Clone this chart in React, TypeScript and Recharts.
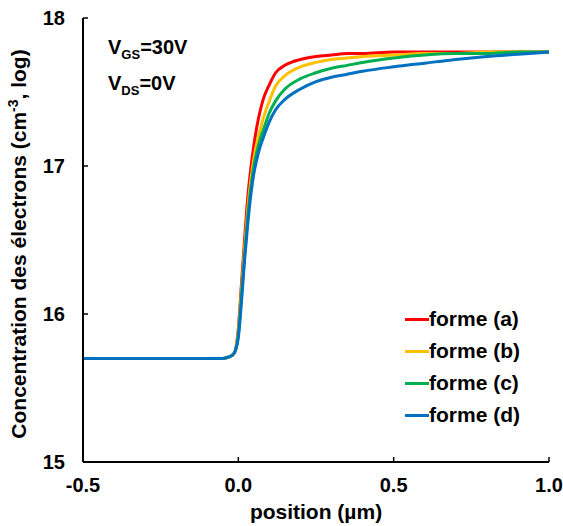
import React from "react";
import { LineChart, Line, XAxis, YAxis } from "recharts";

// position (µm) and log10 electron concentration for each shape
const positions = [
  -0.5, -0.2, -0.1, -0.05, -0.03, -0.02, -0.01, 0, 0.01, 0.02, 0.03, 0.04, 0.05,
  0.06, 0.07, 0.08, 0.1, 0.12, 0.15, 0.2, 0.25, 0.3, 0.35, 0.4, 0.5, 0.6, 0.7,
  0.8, 0.9, 1.0,
];
const formeA = [
  15.7, 15.7, 15.7, 15.7, 15.71, 15.72, 15.75, 15.9, 16.2, 16.5, 16.78, 16.98,
  17.14, 17.27, 17.37, 17.45, 17.55, 17.63, 17.68, 17.72, 17.74, 17.75, 17.76,
  17.76, 17.77, 17.77, 17.77, 17.77, 17.77, 17.77,
];
const formeB = [
  15.7, 15.7, 15.7, 15.7, 15.71, 15.72, 15.75, 15.88, 16.15, 16.44, 16.7, 16.9,
  17.05, 17.16, 17.24, 17.32, 17.44, 17.54, 17.61, 17.67, 17.7, 17.72, 17.73,
  17.74, 17.75, 17.76, 17.76, 17.77, 17.77, 17.77,
];
const formeC = [
  15.7, 15.7, 15.7, 15.7, 15.71, 15.72, 15.75, 15.86, 16.12, 16.4, 16.65, 16.85,
  17.0, 17.1, 17.18, 17.24, 17.36, 17.44, 17.52, 17.59, 17.63, 17.66, 17.68,
  17.7, 17.73, 17.75, 17.76, 17.76, 17.77, 17.77,
];
const formeD = [
  15.7, 15.7, 15.7, 15.7, 15.71, 15.72, 15.75, 15.84, 16.08, 16.36, 16.6, 16.8,
  16.95, 17.05, 17.13, 17.19, 17.3, 17.38, 17.45, 17.52, 17.57, 17.6, 17.62,
  17.64, 17.67, 17.695, 17.72, 17.74, 17.755, 17.77,
];
const xTicks = [-0.5, 0, 0.5, 1.0];
const yTicks = [15, 16, 17, 18];

const series = [
  { key: "a", name: "forme (a)", values: formeA, color: "#FF0000" },
  { key: "b", name: "forme (b)", values: formeB, color: "#FFC000" },
  { key: "c", name: "forme (c)", values: formeC, color: "#00B050" },
  { key: "d", name: "forme (d)", values: formeD, color: "#0070C0" },
];

const data = positions.map((x, i) => {
  const row: any = { x };
  series.forEach((s) => (row[s.key] = s.values[i]));
  return row;
});

const FONT = "'Liberation Sans', Arial, sans-serif";

const XTick = ({ x, y, payload }: any) => (
  <g>
    <line x1={x} y1={y} x2={x} y2={y - 5} stroke="#000" strokeWidth={1.5} />
    <text
      x={x}
      y={y + 30}
      textAnchor="middle"
      fontFamily={FONT}
      fontWeight="bold"
      fontSize={20}
      fill="#000"
    >
      {payload.value.toFixed(1)}
    </text>
  </g>
);

const YTick = ({ x, y, payload }: any) => (
  <g>
    <line x1={x} y1={y} x2={x + 5} y2={y} stroke="#000" strokeWidth={1.5} />
    <text
      x={x - 18}
      y={y + 7}
      textAnchor="end"
      fontFamily={FONT}
      fontWeight="bold"
      fontSize={20}
      fill="#000"
    >
      {payload.value}
    </text>
  </g>
);

const YLabel = () => (
  <text
    x={26}
    y={244}
    transform="rotate(-90 26 244)"
    textAnchor="middle"
    fontFamily={FONT}
    fontWeight="bold"
    fontSize={21}
    fill="#000"
  >
    Concentration des électrons (cm
    <tspan dy={-8} fontSize={14}>
      -3
    </tspan>
    <tspan dy={8}>, log)</tspan>
  </text>
);

export default function App() {
  return (
    <div style={{ position: "absolute", left: 0, top: 0, width: 563, height: 526 }}>
      <LineChart
        width={563}
        height={526}
        data={data}
        margin={{ top: 18, right: 14, left: 23, bottom: 34 }}
      >
        <XAxis
          dataKey="x"
          type="number"
          domain={[-0.5, 1]}
          ticks={xTicks}
          tickSize={0}
          tickMargin={0}
          tick={<XTick />}
          axisLine={{ stroke: "#000", strokeWidth: 2 }}
          height={30}
          label={{
            value: "position (µm)",
            position: "bottom",
            offset: 12,
            style: { fontFamily: FONT, fontWeight: "bold", fontSize: 21, fill: "#000" },
          }}
        />
        <XAxis
          xAxisId="top"
          orientation="top"
          dataKey="x"
          type="number"
          domain={[-0.5, 1]}
          ticks={xTicks}
          tick={false}
          tickLine={false}
          height={0}
          axisLine={{ stroke: "#000", strokeWidth: 2 }}
        />
        <YAxis
          type="number"
          domain={[15, 18]}
          ticks={yTicks}
          tickSize={0}
          tickMargin={0}
          tick={<YTick />}
          width={60}
          axisLine={{ stroke: "#000", strokeWidth: 2 }}
          label={() => <YLabel />}
        />
        <YAxis
          yAxisId="right"
          orientation="right"
          type="number"
          domain={[15, 18]}
          tick={false}
          tickLine={false}
          width={0}
          axisLine={{ stroke: "#000", strokeWidth: 2 }}
        />
        {series.map((s) => (
          <Line
            key={s.key}
            dataKey={s.key}
            name={s.name}
            type="monotone"
            stroke={s.color}
            strokeWidth={3}
            dot={false}
            isAnimationActive={false}
          />
        ))}
      </LineChart>
      <div
        style={{
          position: "absolute",
          left: 108,
          top: 33,
          fontFamily: FONT,
          fontWeight: "bold",
          fontSize: 20,
          lineHeight: "28px",
          color: "#000",
        }}
      >
        <div>
          V<sub style={{ fontSize: 13 }}>GS</sub>=30V
        </div>
        <div>
          V<sub style={{ fontSize: 13 }}>DS</sub>=0V
        </div>
      </div>
      <div
        style={{
          position: "absolute",
          left: 405,
          top: 303,
          fontFamily: FONT,
          fontWeight: "bold",
          fontSize: 21,
          color: "#000",
        }}
      >
        {series.map((s) => (
          <div key={s.key} style={{ display: "flex", alignItems: "center", height: 32 }}>
            <span
              style={{ display: "inline-block", width: 24, height: 3, background: s.color }}
            />
            <span>{s.name}</span>
          </div>
        ))}
      </div>
    </div>
  );
}
